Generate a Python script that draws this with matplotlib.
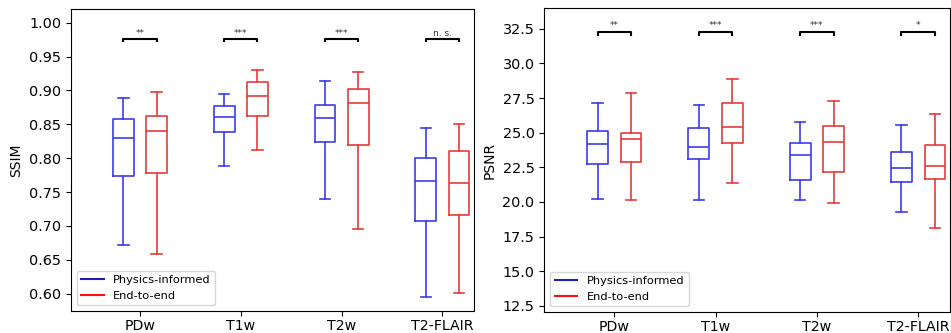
import matplotlib
matplotlib.use("Agg")
import matplotlib.pyplot as plt
from matplotlib.lines import Line2D

# ---------------------------------------
# Data
# ---------------------------------------
sequences = ["PDw", "T1w", "T2w", "T2-FLAIR"]
methods = ["Physics-informed", "End-to-end"]

# each entry: (whislo, q1, median, q3, whishi)
ssim_phys = [(0.672, 0.774, 0.830, 0.858, 0.889),
             (0.789, 0.839, 0.861, 0.877, 0.895),
             (0.740, 0.824, 0.859, 0.879, 0.914),
             (0.595, 0.707, 0.766, 0.801, 0.845)]
ssim_e2e = [(0.659, 0.778, 0.840, 0.862, 0.897),
            (0.812, 0.863, 0.892, 0.912, 0.930),
            (0.695, 0.819, 0.882, 0.902, 0.927),
            (0.601, 0.716, 0.764, 0.811, 0.850)]
ssim_sig = ["**", "***", "***", "n. s."]

psnr_phys = [(20.24, 22.74, 24.19, 25.13, 27.15),
             (20.16, 23.08, 23.99, 25.30, 26.98),
             (20.11, 21.58, 23.39, 24.26, 25.78),
             (19.25, 21.46, 22.43, 23.61, 25.58)]
psnr_e2e = [(20.16, 22.89, 24.52, 25.01, 27.85),
            (21.37, 24.28, 25.42, 27.13, 28.86),
            (19.92, 22.19, 24.33, 25.49, 27.30),
            (18.14, 21.66, 22.62, 24.09, 26.36)]
psnr_sig = ["**", "***", "***", "*"]

blue = "#3c3ce6"
red = "#e63c3c"
offset = 0.165
width = 0.205


def to_stats(rows):
    return [dict(whislo=a, q1=b, med=c, q3=d, whishi=e, fliers=[]) for a, b, c, d, e in rows]


def draw_panel(ax, phys, e2e, sig, ylabel, ylim, yticks, bracket_y, tick_len, text_gap):
    for rows, color, sign in [(phys, blue, -1), (e2e, red, 1)]:
        pos = [i + sign * offset for i in range(len(sequences))]
        props = dict(color=color, linewidth=1.2)
        ax.bxp(to_stats(rows), positions=pos, widths=width, showfliers=False,
               boxprops=props, whiskerprops=props, capprops=props,
               medianprops=props, manage_ticks=False)

    # significance brackets
    for i, s in enumerate(sig):
        x0, x1 = i - offset, i + offset
        ax.plot([x0, x0, x1, x1],
                [bracket_y - tick_len, bracket_y, bracket_y, bracket_y - tick_len],
                color="black", linewidth=1.5)
        ax.text(i, bracket_y + text_gap, s, ha="center", va="bottom", fontsize=6.5,
                color="#333333")

    ax.set_xticks(range(len(sequences)))
    ax.set_xticklabels(sequences, fontsize=10.2)
    ax.tick_params(axis="x", pad=2)
    ax.set_yticks(yticks)
    ax.tick_params(axis="y", labelsize=10.4)
    ax.set_ylim(ylim)
    ax.set_ylabel(ylabel, fontsize=10)

    handles = [Line2D([], [], color="#2020b0", linewidth=1.5),
               Line2D([], [], color="#ff1010", linewidth=1.5)]
    ax.legend(handles, methods, loc="lower left", fontsize=8.2)


fig = plt.figure(figsize=(9.51, 3.33), dpi=100)

ax1 = fig.add_axes([71 / 951, 22 / 333, 403.3 / 951, 302 / 333])
ax1.set_xlim(-0.685, 3.317)
draw_panel(ax1, ssim_phys, ssim_e2e, ssim_sig, "SSIM", (0.5745, 1.0202),
           [0.60, 0.65, 0.70, 0.75, 0.80, 0.85, 0.90, 0.95, 1.00],
           0.976, 0.003, 0.002)

ax2 = fig.add_axes([544.3 / 951, 21 / 333, 405.7 / 951, 304 / 333])
ax2.set_xlim(-0.691, 3.314)
draw_panel(ax2, psnr_phys, psnr_e2e, psnr_sig, "PSNR", (12.05, 34.0),
           [12.5, 15.0, 17.5, 20.0, 22.5, 25.0, 27.5, 30.0, 32.5],
           32.26, 0.2, 0.15)

fig.savefig("out.png", dpi=100)
